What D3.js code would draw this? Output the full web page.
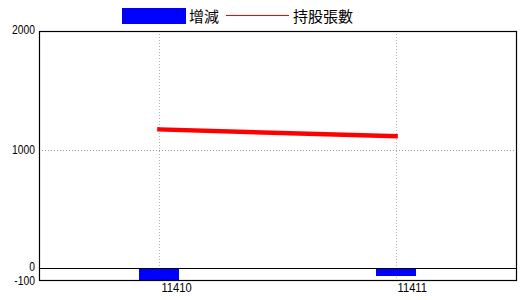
<!DOCTYPE html>
<html>
<head>
<meta charset="utf-8">
<script src="https://cdn.jsdelivr.net/npm/d3@7"></script>
<style>
  body { margin: 0; background: #fff; }
  svg { display: block; }
  .num { font-family: "Liberation Sans Narrow", "Liberation Sans", sans-serif; font-size: 13px; fill: #000; }
  .ynum { font-size: 12px; }
  .leg { font-family: "Noto Sans CJK TC", sans-serif; font-size: 15px; fill: #000; }
</style>
</head>
<body>
<svg id="chart" width="520" height="300"></svg>
<script>
// data
var periods = ['11410', '11411'];
var change = [-100, -65];        // 增減 (bars)
var holding = [1170, 1112];      // 持股張數 (line)
var yTicks = [2000, 1000, 0, -100];

var svg = d3.select('#chart');
// note: "top" is a reserved window prop, so use plot* names
var plotL = 39, plotR = 516, plotT = 31, plotB = 280;
var squeeze = 0.86; // the labels in the original are a narrow face

var x = d3.scalePoint().domain(periods).range([plotL, plotR]).padding(0.51);
var y = d3.scaleLinear().domain([-100, 2000]).range([plotB, plotT]);

// gridlines
svg.append('line')
  .attr('x1', plotL).attr('x2', plotR)
  .attr('y1', Math.round(y(1000)) + 0.5).attr('y2', Math.round(y(1000)) + 0.5)
  .attr('stroke', '#999').attr('stroke-dasharray', '1,2');
svg.selectAll('.vgrid').data(periods).enter().append('line')
  .attr('x1', function (d) { return Math.round(x(d)) + 0.5; })
  .attr('x2', function (d) { return Math.round(x(d)) + 0.5; })
  .attr('y1', plotT).attr('y2', plotB)
  .attr('stroke', '#a8b8c8').attr('stroke-dasharray', '1,2');

// bars
var bw = 40;
svg.selectAll('.bar').data(periods).enter().append('rect')
  .attr('x', function (d) { return Math.round(x(d) - bw / 2); })
  .attr('y', y(0) + 1)
  .attr('width', bw)
  .attr('height', function (d, i) { return Math.max(0, y(change[i]) - y(0) - 1); })
  .attr('fill', '#0000ff')
  .attr('shape-rendering', 'crispEdges');

// frame + zero line
svg.append('rect')
  .attr('x', plotL + 0.5).attr('y', plotT + 0.5)
  .attr('width', plotR - plotL).attr('height', plotB - plotT)
  .attr('fill', 'none').attr('stroke', '#000').attr('stroke-width', 1.2);
svg.append('line')
  .attr('x1', plotL).attr('x2', plotR)
  .attr('y1', Math.round(y(0)) + 0.5).attr('y2', Math.round(y(0)) + 0.5)
  .attr('stroke', '#000').attr('stroke-width', 1.2);

// line
var line = d3.line()
  .x(function (d, i) { return x(periods[i]); })
  .y(function (d) { return y(d); });
svg.append('path')
  .datum(holding)
  .attr('d', line)
  .attr('fill', 'none')
  .attr('stroke', '#ff0000')
  .attr('stroke-width', 4.5)
  .attr('stroke-linecap', 'square');

// y labels
svg.selectAll('.ylab').data(yTicks).enter().append('text')
  .attr('class', 'num ynum')
  .attr('transform', function (d) {
    var ty = y(d);
    if (d === 2000) ty -= 1;
    if (d === 0) ty -= 1;
    if (d === -100) ty += 0.5;
    return 'translate(35,' + ty + ') scale(' + squeeze + ',1)';
  })
  .attr('dy', '0.36em')
  .attr('text-anchor', 'end')
  .text(function (d) { return d; });

// x labels
svg.selectAll('.xlab').data(periods).enter().append('text')
  .attr('class', 'num')
  .attr('transform', function (d) { return 'translate(' + (x(d) + 2) + ',292) scale(' + squeeze + ',1)'; })
  .text(function (d) { return d; });

// legend
svg.append('rect').attr('x', 122).attr('y', 8).attr('width', 64).attr('height', 16).attr('fill', '#0000ff');
svg.append('text').attr('class', 'leg').attr('x', 189).attr('y', 22).text('增減');
svg.append('rect').attr('x', 226).attr('y', 15).attr('width', 63).attr('height', 1)
  .attr('fill', '#ff0000').attr('shape-rendering', 'crispEdges');
svg.append('text').attr('class', 'leg').attr('x', 293).attr('y', 22).text('持股張數');
</script>
</body>
</html>
